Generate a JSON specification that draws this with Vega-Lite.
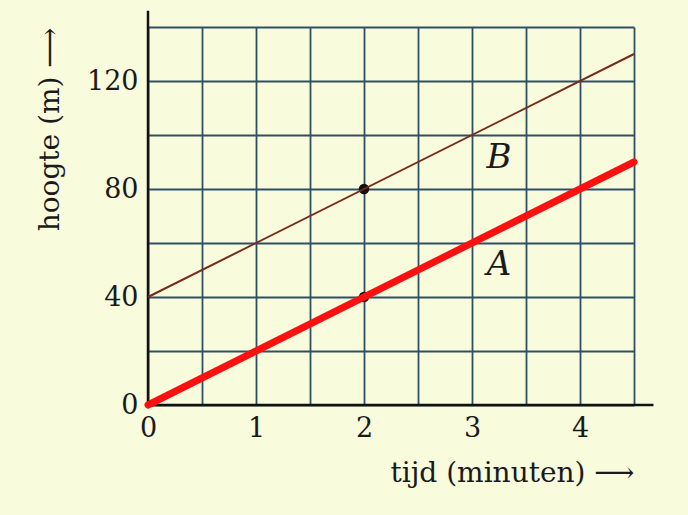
{
  "$schema": "https://vega.github.io/schema/vega-lite/v6.json",
  "width": 486,
  "height": 378,
  "autosize": {"type": "none"},
  "padding": {"left": 148, "top": 27, "right": 54, "bottom": 110},
  "background": "#f8fbdc",
  "config": {
    "view": {"stroke": null},
    "axis": {
      "grid": true,
      "gridColor": "#2f4f66",
      "gridWidth": 1.8,
      "gridOpacity": 1,
      "domain": false,
      "ticks": false,
      "format": "d",
      "labelFlush": false,
      "labelFont": "DejaVu Serif",
      "labelFontSize": 27,
      "labelColor": "#1a1a1a",
      "titleFont": "DejaVu Serif",
      "titleFontSize": 28,
      "titleFontWeight": "normal",
      "titleColor": "#1a1a1a"
    }
  },
  "datasets": {
    "lijnen": [
      {"t": 0, "h": 0, "lijn": "A"},
      {"t": 4.5, "h": 90, "lijn": "A"},
      {"t": 0, "h": 40, "lijn": "B"},
      {"t": 4.5, "h": 130, "lijn": "B"}
    ],
    "punten": [
      {"t": 2, "h": 80},
      {"t": 2, "h": 40}
    ],
    "namen": [
      {"t": 3.25, "h": 91.5, "naam": "B"},
      {"t": 3.25, "h": 52, "naam": "A"}
    ],
    "assen": [
      {"t": 0, "t2": 4.68, "h": 0, "h2": 0},
      {"t": 0, "t2": 0, "h": 0, "h2": 146}
    ]
  },
  "layer": [
    {
      "data": {"name": "punten"},
      "mark": {"type": "point", "filled": true, "color": "#111111", "opacity": 1, "size": 110},
      "encoding": {
        "x": {
          "field": "t", "type": "quantitative",
          "scale": {"domain": [0, 4.5], "nice": false, "zero": false},
          "axis": {
            "values": [0, 0.5, 1, 1.5, 2, 2.5, 3, 3.5, 4, 4.5],
            "labelExpr": "datum.value % 1 === 0 && datum.value < 4.5 ? datum.label : ''",
            "labelPadding": 10,
            "title": "tijd (minuten) ⟶",
            "titleAnchor": "end",
            "titlePadding": 18
          }
        },
        "y": {
          "field": "h", "type": "quantitative",
          "scale": {"domain": [0, 140], "nice": false, "zero": false},
          "axis": {
            "values": [0, 20, 40, 60, 80, 100, 120, 140],
            "labelExpr": "datum.value % 40 === 0 ? datum.label : ''",
            "labelPadding": 10,
            "title": "hoogte (m) ⟶",
            "titleAnchor": "end",
            "titlePadding": 22
          }
        }
      }
    },
    {
      "data": {"name": "assen"},
      "mark": {"type": "rule", "color": "#111111", "strokeWidth": 2.5},
      "encoding": {
        "x": {"field": "t", "type": "quantitative"},
        "x2": {"field": "t2"},
        "y": {"field": "h", "type": "quantitative"},
        "y2": {"field": "h2"}
      }
    },
    {
      "data": {"name": "lijnen"},
      "transform": [{"filter": "datum.lijn === 'B'"}],
      "mark": {"type": "line", "color": "#7a2a1c", "strokeWidth": 2},
      "encoding": {
        "x": {"field": "t", "type": "quantitative"},
        "y": {"field": "h", "type": "quantitative"}
      }
    },
    {
      "data": {"name": "lijnen"},
      "transform": [{"filter": "datum.lijn === 'A'"}],
      "mark": {"type": "line", "color": "#ff1010", "strokeWidth": 7, "strokeCap": "round"},
      "encoding": {
        "x": {"field": "t", "type": "quantitative"},
        "y": {"field": "h", "type": "quantitative"}
      }
    },
    {
      "data": {"name": "namen"},
      "mark": {"type": "text", "font": "DejaVu Serif", "fontStyle": "italic", "fontSize": 34, "color": "#1a1a1a"},
      "encoding": {
        "x": {"field": "t", "type": "quantitative"},
        "y": {"field": "h", "type": "quantitative"},
        "text": {"field": "naam"}
      }
    }
  ]
}
